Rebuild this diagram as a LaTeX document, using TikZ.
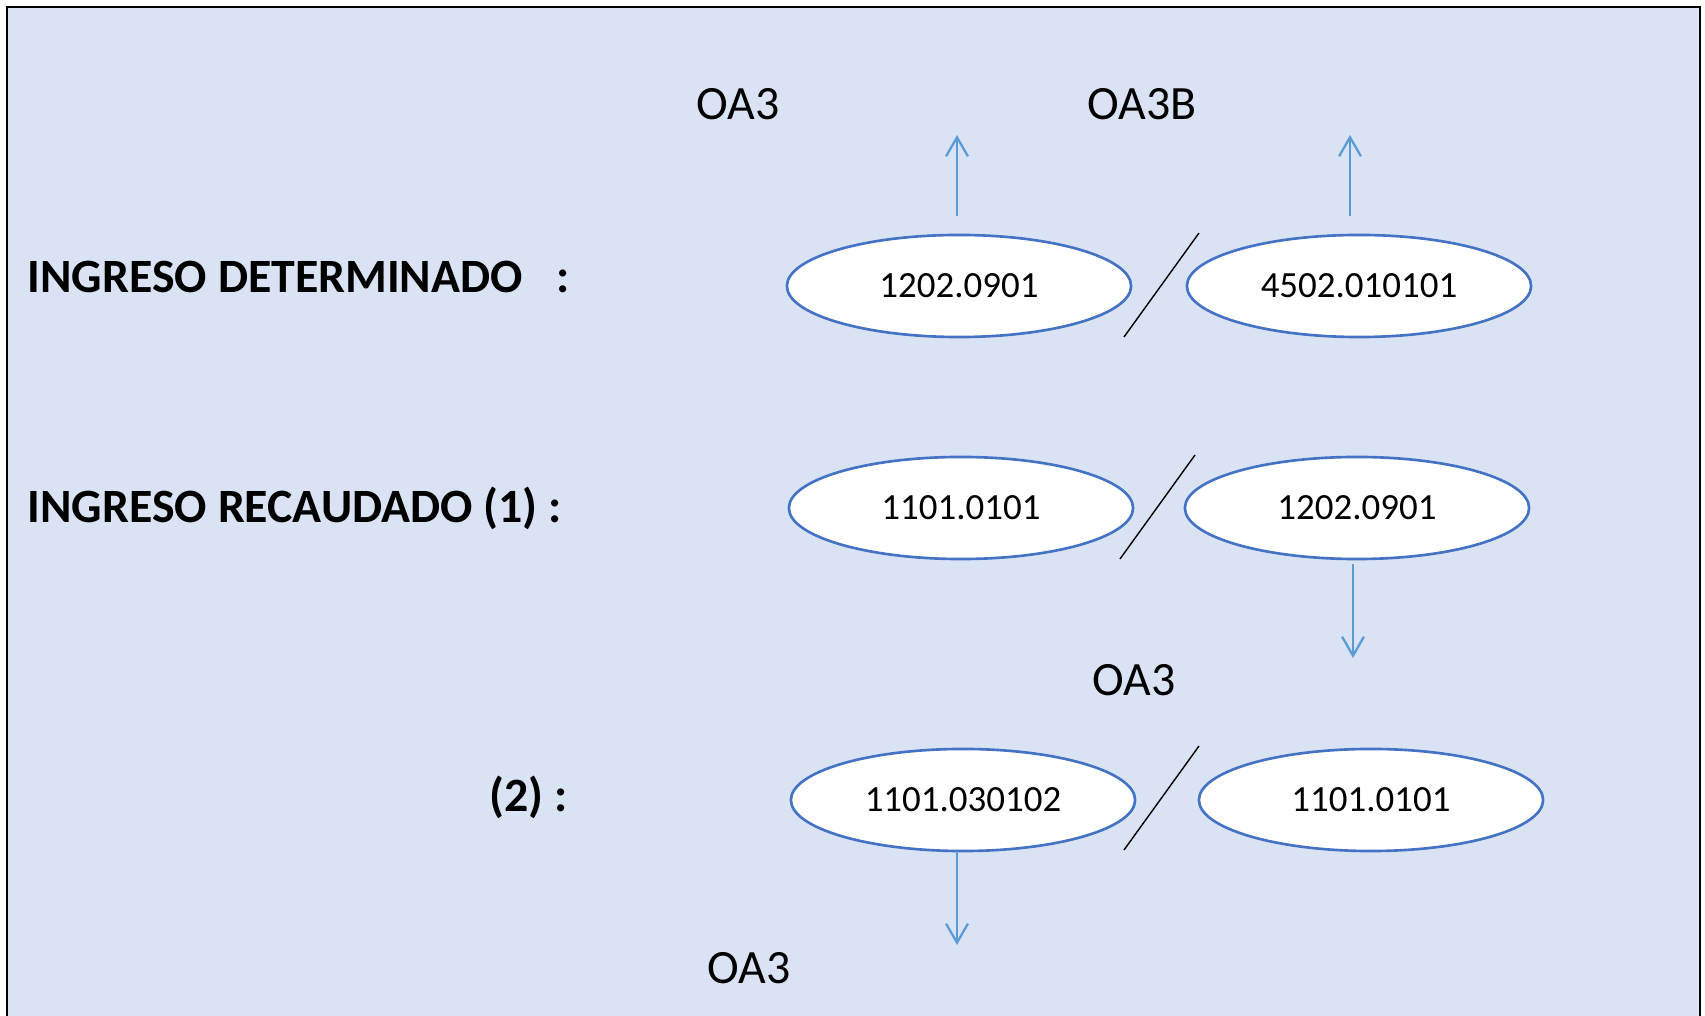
\documentclass[tikz,border=0pt]{standalone}
\usepackage{fontspec}
\setmainfont{Carlito}
\usetikzlibrary{
  calc, shapes, arrows.meta
}

\definecolor{fondo}{HTML}{DAE3F3}
\definecolor{borde}{HTML}{4472C4}
\definecolor{azul}{HTML}{5B9BD5}

\begin{document}
\begin{tikzpicture}[x=0.01cm, y=-0.01cm]
  \tikzstyle{cuenta}=[ellipse, draw=borde, line width=0.75pt, fill=white, minimum width=3.44cm, minimum height=1.02cm, inner sep=0pt, font=\fontsize{10.5}{12}\selectfont]
  \tikzstyle{titulo}=[inner sep=0pt, font=\fontsize{13.6}{16}\selectfont\bfseries]
  \tikzstyle{etiqueta}=[anchor=base, inner sep=0pt, font=\fontsize{13.6}{16}\selectfont]
  \tikzstyle{flujo}=[draw=azul, line width=0.65pt, -{Straight Barb[length=5.4pt, width=6.2pt]}]
  \tikzstyle{barra}=[draw=black, line width=0.4pt]

  \useasboundingbox (0,0) rectangle (1705,1016);
  \fill [fondo] (7,7) rectangle (1700,1030);
  \draw [line width=0.6pt] (7,1030) -- (7,7) -- (1700,7) -- (1700,1030);

  % filas de la izquierda
  \node (fila1) [titulo, anchor=base west] at (27,293) {INGRESO DETERMINADO\hspace{0.34cm}:};
  \node (fila2) [titulo, anchor=base west] at (27,523) {INGRESO RECAUDADO (1) :};
  \node (fila3) [titulo, anchor=base west] at (489,812) {(2) :};

  \node (c11) [cuenta] at (959,286) {1202.0901};
  \node (c12) [cuenta] at (1359,286) {4502.010101};
  \node (c21) [cuenta] at (961,508) {1101.0101};
  \node (c22) [cuenta] at (1357,508) {1202.0901};
  \node (c31) [cuenta] at (963,800) {1101.030102};
  \node (c32) [cuenta] at (1371,800) {1101.0101};

  \draw [barra] (1124,337) -- (1199,233);
  \draw [barra] (1120,559) -- (1195,455);
  \draw [barra] (1124,850) -- (1199,746);

  \node (oa1) [etiqueta] at (738,120) {OA3};
  \node (oa2) [etiqueta] at (1142,120) {OA3B};
  \node (oa3) [etiqueta] at (1134,696) {OA3};
  \node (oa4) [etiqueta] at (749,984) {OA3};

  \coordinate (s11) at (957,216);  \coordinate (f11) at (957,135);
  \coordinate (s12) at (1350,216); \coordinate (f12) at (1350,135);
  \coordinate (s22) at (1353,564); \coordinate (f22) at (1353,658);
  \coordinate (s31) at (957,851);  \coordinate (f31) at (957,945);

  \draw [flujo] (s11) -- (f11);
  \draw [flujo] (s12) -- (f12);
  \draw [flujo] (s22) -- (f22);
  \draw [flujo] (s31) -- (f31);

\end{tikzpicture}
\end{document}
